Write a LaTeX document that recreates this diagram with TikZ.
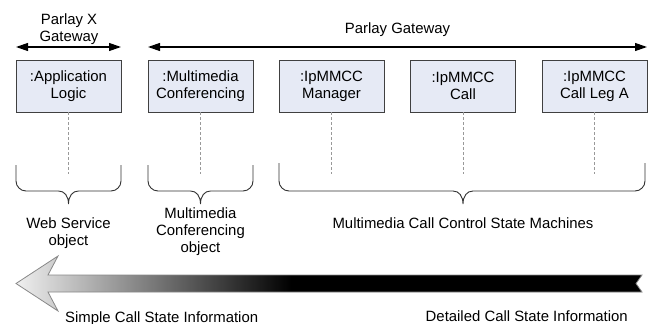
\documentclass[tikz,border=0pt]{standalone}
\usepackage{fontspec}
\setmainfont{Liberation Sans}
\usetikzlibrary{arrows.meta}
\definecolor{boxfill}{HTML}{E6EAF5}
\definecolor{boxline}{HTML}{404040}
\definecolor{lifegray}{HTML}{999999}
\definecolor{bracegray}{HTML}{303030}
\definecolor{shadelight}{HTML}{F0F0F0}
\definecolor{arrowedge}{HTML}{888888}
% light-to-black fill of the information arrow
\pgfdeclarehorizontalshading{infoshade}{100bp}{color(0bp)=(shadelight); color(25bp)=(shadelight); color(47bp)=(black); color(100bp)=(black)}
% curly brace: left x, right x, tip x, top y
\newcommand{\curlybrace}[4]{%
  \draw[bracket] (#1,#4) -- (#1,181)
    .. controls (#1,186.5) and ({#1+4.5},191) .. ({#1+10},191)
    -- ({#3-10},191)
    .. controls ({#3-4},191) and (#3,196) .. (#3,204)
    .. controls (#3,196) and ({#3+4},191) .. ({#3+10},191)
    -- ({#2-10},191)
    .. controls ({#2-4.5},191) and (#2,186.5) .. (#2,181) -- (#2,#4);}
\begin{document}
\begin{tikzpicture}[x=1pt,y=-1pt,
  every node/.style={font=\fontsize{14.9}{17}\selectfont, inner sep=0pt},
  objbox/.style={draw=boxline, fill=boxfill, line width=0.8pt,
    minimum width=105pt, minimum height=52pt, align=center},
  lifeline/.style={draw=lifegray, dash pattern=on 3pt off 2pt, line width=0.6pt},
  bracket/.style={draw=bracegray, line width=0.9pt},
  span/.style={line width=1.2pt,
    {Triangle[length=12pt,width=8pt]}-{Triangle[length=12pt,width=8pt]}},
  lbl/.style={align=center}]
\useasboundingbox (0,0) rectangle (654,324);

% gateway extents
\node[lbl] (pxlabel) at (69,29.5) {Parlay X\\Gateway};
\coordinate (pxL) at (16,47);
\coordinate (pxR) at (121,47);
\draw[span] (pxL) -- (pxR);
\node[anchor=base] (pglabel) at (397.5,33) {Parlay Gateway};
\coordinate (pgL) at (148,47);
\coordinate (pgR) at (647,47);
\draw[span] (pgL) -- (pgR);

% objects
\node[objbox] (app)  at (68.5,86)  {:Application\\Logic};
\node[objbox] (mmc)  at (200.5,86) {:Multimedia\\Conferencing};
\node[objbox] (mgr)  at (331.5,86) {:IpMMCC\\Manager};
\node[objbox] (call) at (463,86)   {:IpMMCC\\Call};
\node[objbox] (leg)  at (594.5,86) {:IpMMCC\\Call Leg A};

% lifelines
\coordinate (lifeend) at (0,174);
\foreach \n in {app,mmc,mgr,call,leg}
  \draw[lifeline] (\n.south) -- (\n.south |- lifeend);

% groupings
\curlybrace{16}{121}{68.5}{165}
\curlybrace{148}{253}{200.5}{165}
\curlybrace{279}{645}{463}{163}
\node[lbl] (wsobj) at (68.5,233) {Web Service\\object};
\node[lbl] (mcobj) at (200.5,231.5) {Multimedia\\Conferencing\\object};
\node[anchor=base] (sm) at (463,228) {Multimedia Call Control State Machines};

% level of call state detail
\path[shade, shading=infoshade, draw=arrowedge, line width=0.8pt]
  (16,283.5) -- (58,256) -- (48,275) -- (642,275) -- (636,283.5)
  -- (642,292) -- (48,292) -- (58,311) -- cycle;
\node[anchor=base west] (simple) at (65,322) {Simple Call State Information};
\node[anchor=base east] (detail) at (628,321) {Detailed Call State Information};
\end{tikzpicture}
\end{document}
